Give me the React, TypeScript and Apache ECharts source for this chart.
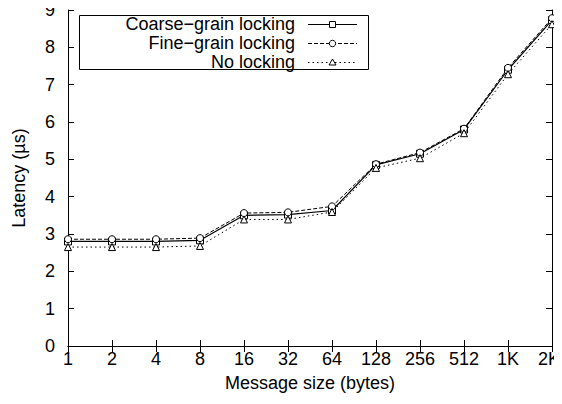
import React, { useEffect, useRef } from "react";
import * as echarts from "echarts";

const categories = ["1", "2", "4", "8", "16", "32", "64", "128", "256", "512", "1K", "2K"];
const coarse = [2.8, 2.8, 2.8, 2.83, 3.5, 3.52, 3.63, 4.85, 5.15, 5.8, 7.4, 8.73];
const fine = [2.86, 2.86, 2.86, 2.89, 3.56, 3.58, 3.74, 4.87, 5.18, 5.82, 7.45, 8.78];
const none = [2.65, 2.65, 2.65, 2.68, 3.39, 3.39, 3.59, 4.77, 5.03, 5.7, 7.28, 8.62];
const seriesNames = ["Coarse\u2212grain locking", "Fine\u2212grain locking", "No locking"];

const FONT = "'Liberation Sans', Arial, Helvetica, sans-serif";
const FS = 18;

export default function App() {
  const ref = useRef<HTMLDivElement>(null);
  useEffect(() => {
    if (!ref.current) return;
    const chart = echarts.init(ref.current, undefined, { renderer: "svg" });
    const lineCommon = {
      type: "line",
      xAxisIndex: 0,
      yAxisIndex: 0,
      symbolSize: 7,
      itemStyle: { color: "#fff", borderColor: "#000", borderWidth: 1 },
      z: 3,
    };
    const dashes: any[] = ["solid", [4, 2], [1.5, 3]];
    const symbols = ["rect", "circle", "triangle"];
    const datas = [coarse, fine, none];
    const rows = [24, 43, 62];
    const legendGraphics: any[] = [
      {
        type: "rect",
        shape: { x: 79.5, y: 15.5, width: 289, height: 54 },
        style: { fill: "#fff", stroke: "#000", lineWidth: 1 },
        z: 10,
      },
    ];
    rows.forEach((y, i) => {
      legendGraphics.push({
        type: "text",
        x: 295,
        y: y,
        style: {
          text: seriesNames[i],
          font: `${FS}px ${FONT}`,
          lineHeight: 18,
          fill: "#000",
          align: "right",
          verticalAlign: "middle",
        },
        z: 11,
      });
      legendGraphics.push({
        type: "line",
        shape: { x1: 308, y1: y + 0.5, x2: 357, y2: y + 0.5 },
        style: {
          stroke: "#000",
          lineWidth: 1,
          lineDash: dashes[i] === "solid" ? null : dashes[i],
        },
        z: 11,
      });
      if (i === 0) {
        legendGraphics.push({
          type: "rect",
          shape: { x: 329.5, y: y - 2.5, width: 6, height: 6 },
          style: { fill: "#fff", stroke: "#000", lineWidth: 1 },
          z: 12,
        });
      } else if (i === 1) {
        legendGraphics.push({
          type: "circle",
          shape: { cx: 332.5, cy: y + 0.5, r: 3.2 },
          style: { fill: "#fff", stroke: "#000", lineWidth: 1 },
          z: 12,
        });
      } else {
        legendGraphics.push({
          type: "polygon",
          shape: { points: [[332.5, y - 3], [329, y + 3], [336, y + 3]] },
          style: { fill: "#fff", stroke: "#000", lineWidth: 1 },
          z: 12,
        });
      }
    });

    const axisLine = { show: true, lineStyle: { color: "#000", width: 1 } };
    const tick = { show: true, inside: true, length: 6, lineStyle: { color: "#000" } };
    chart.setOption({
      animation: false,
      backgroundColor: "#fff",
      textStyle: { fontFamily: FONT },
      grid: { left: 68, right: 10, top: 10, bottom: 50, containLabel: false, outerBoundsMode: "none" },
      xAxis: [
        {
          type: "category",
          data: categories,
          boundaryGap: false,
          position: "bottom",
          axisLine,
          axisTick: tick,
          axisLabel: {
            color: "#000",
            fontSize: FS,
            margin: 4,
            fontFamily: FONT,
            interval: 0,
            formatter: (v: string, idx: number) =>
              idx === categories.length - 1 ? `{r|${v}}` : v,
            rich: { r: { fontSize: FS, color: "#000", fontFamily: FONT, padding: [0, 6, 0, 0] } },
          },
          splitLine: { show: false },
          name: "Message size (bytes)",
          nameLocation: "middle",
          nameGap: 28,
          nameTextStyle: { color: "#000", fontSize: FS, fontFamily: FONT },
        },
        {
          type: "category",
          data: categories,
          boundaryGap: false,
          position: "top",
          axisLine,
          axisTick: tick,
          axisLabel: { show: false, interval: 0 },
          splitLine: { show: false },
        },
      ],
      yAxis: [
        {
          type: "value",
          min: 0,
          max: 9,
          interval: 1,
          position: "left",
          axisLine,
          axisTick: tick,
          axisLabel: { color: "#000", fontSize: FS, margin: 13, fontFamily: FONT },
          splitLine: { show: false },
          name: "Latency (\u00b5s)",
          nameLocation: "middle",
          nameGap: 40,
          nameRotate: 90,
          nameTextStyle: { color: "#000", fontSize: FS, fontFamily: FONT },
        },
        {
          type: "value",
          min: 0,
          max: 9,
          interval: 1,
          position: "right",
          axisLine,
          axisTick: tick,
          axisLabel: { show: false },
          splitLine: { show: false },
        },
      ],
      series: datas.map((d, i) => ({
        ...lineCommon,
        name: seriesNames[i],
        data: d,
        symbol: symbols[i],
        lineStyle: {
          color: "#000",
          width: i === 0 ? 1.2 : 1,
          type: dashes[i],
        },
      })),
      graphic: legendGraphics,
    });
    return () => chart.dispose();
  }, []);
  return <div ref={ref} style={{ width: 562, height: 396, marginTop: -8, marginLeft: -8 }} />;
}
